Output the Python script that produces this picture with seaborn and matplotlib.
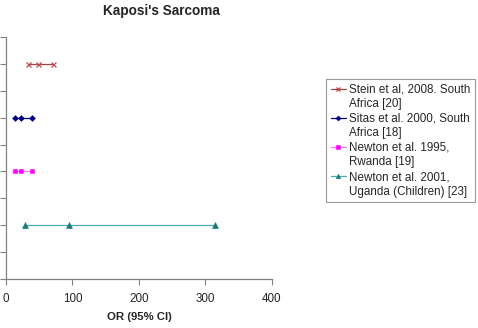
import matplotlib
matplotlib.use("Agg")
import matplotlib.pyplot as plt
from matplotlib.lines import Line2D
import seaborn as sns
import pandas as pd

# ---- data ----
studies = ["Stein et al, 2008. South Africa [20]",
           "Sitas et al. 2000, South Africa [18]",
           "Newton et al. 1995, Rwanda [19]",
           "Newton et al. 2001, Uganda (Children) [23]"]
legend_labels = ["Stein et al, 2008. South\nAfrica [20]",
                 "Sitas et al. 2000, South\nAfrica [18]",
                 "Newton et al. 1995,\nRwanda [19]",
                 "Newton et al. 2001,\nUganda (Children) [23]"]
row_pos = [8, 6, 4, 2]
lower = [33, 13, 13, 29]
odds = [48, 22.5, 22.5, 95]
upper = [71, 39.5, 39.5, 315]
line_colors = ["#a04545", "#000080", "#ff70ff", "#4aacac"]
marker_colors = ["#c04848", "#000080", "#ff00ff", "#1a7a7a"]
markers = ["x", "D", "s", "^"]
x_ticks = [0, 100, 200, 300, 400]

sns.set_style("white")
plt.rcParams["font.family"] = ["Liberation Sans", "DejaVu Sans"]

fig = plt.figure(figsize=(4.78, 3.28), dpi=100)
ax = fig.add_axes([6 / 478, 1 - 279 / 328, 266 / 478, 242 / 328])

sizes = {"x": 3.6, "D": 3.0, "s": 3.2, "^": 3.8}
handles = []
for s, y, lo, o, hi, c, mc, m in zip(studies, row_pos, lower, odds, upper,
                                      line_colors, marker_colors, markers):
    d = pd.DataFrame({"OR": [lo, o, hi], "y": [y, y, y]})
    sns.lineplot(data=d, x="OR", y="y", color=c, marker=m,
                 markersize=sizes[m], markeredgecolor=mc, markerfacecolor=mc,
                 markeredgewidth=0.9 if m == "x" else 0.4,
                 linewidth=0.9, estimator=None, ax=ax, label=s)
    handles.append(ax.lines[-1])

if ax.get_legend() is not None:
    ax.get_legend().remove()

# legend: each wrapped label line as its own row; continuation rows get a blank handle
leg_handles, leg_texts = [], []
for h, lab in zip(handles, legend_labels):
    parts = lab.split("\n")
    leg_handles.append(h)
    leg_texts.append(parts[0])
    for p in parts[1:]:
        leg_handles.append(Line2D([], [], linestyle="none", marker=None))
        leg_texts.append(p)

leg = fig.legend(leg_handles, leg_texts, loc="upper left",
                 bbox_to_anchor=(326 / 478, 1 - 79 / 328),
                 fontsize=8.4, frameon=True, fancybox=False,
                 edgecolor="#808080", handlelength=1.3, handletextpad=0.25,
                 labelspacing=0.22, borderpad=0.4, borderaxespad=0,
                 markerscale=0.85)
leg.get_frame().set_linewidth(0.8)

ax.set_xlim(0, 400)
ax.set_ylim(0, 9)
ax.set_xticks(x_ticks)
ax.set_xticklabels([str(t) for t in x_ticks], fontsize=8.4)
ax.set_yticks(range(0, 10))
ax.set_yticklabels([])
ax.set_ylabel("")
ax.set_xlabel("OR (95% CI)", fontsize=8.2, fontweight="bold", labelpad=5)
ax.tick_params(axis="both", direction="out", length=4, width=0.8,
               color="#808080", left=True, bottom=True, pad=6)
for side in ("top", "right"):
    ax.spines[side].set_visible(False)
for side in ("left", "bottom"):
    ax.spines[side].set_color("#808080")
    ax.spines[side].set_linewidth(0.9)

fig.text(161 / 478, 1 - 11 / 328, "Kaposi's Sarcoma", ha="center", va="center",
         fontsize=9.8, fontweight="bold")

fig.savefig("out.png", dpi=100)
